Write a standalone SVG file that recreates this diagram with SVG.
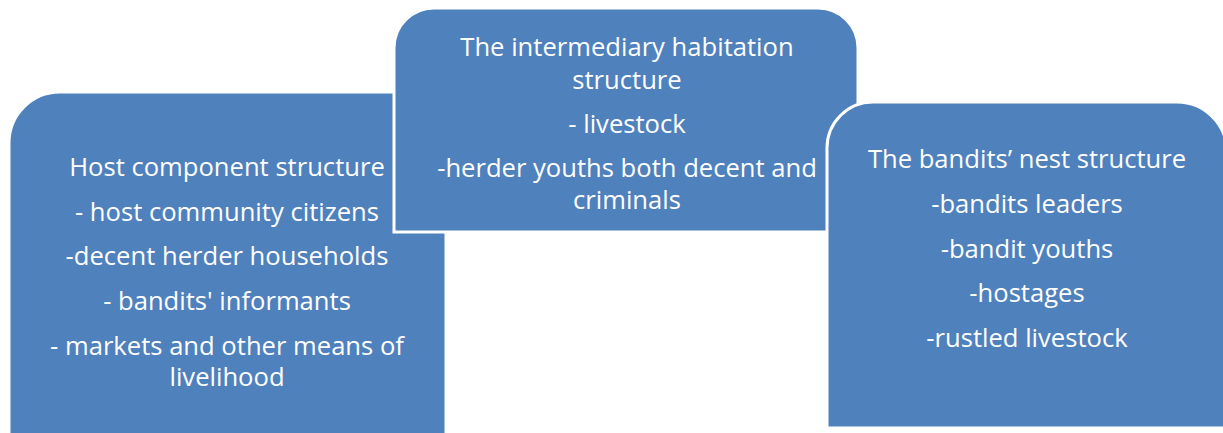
<svg xmlns="http://www.w3.org/2000/svg" width="1223" height="433" viewBox="0 0 1223 433">
  <style>
    .box { fill: #4F81BD; stroke: #FFFFFF; stroke-width: 3; }
    .label { fill: #FFFFFF; font-family: "Open Sans", "Liberation Sans", sans-serif; font-size: 25.6px; text-anchor: middle; }
  </style>
  <rect width="1223" height="433" fill="#FFFFFF"/>

  <!-- Host component structure -->
  <g id="host-component">
    <path class="box" d="M9,460 V143 A51,51 0 0 1 60,92 H400 A46,46 0 0 1 446,138 V460 Z"/>
    <text class="label" x="227" y="176">Host component structure</text>
    <text class="label" x="227" y="221">- host community citizens</text>
    <text class="label" x="227" y="265">-decent herder households</text>
    <text class="label" x="227" y="310">- bandits' informants</text>
    <text class="label" x="227" y="355">- markets and other means of</text>
    <text class="label" x="227" y="386">livelihood</text>
  </g>

  <!-- Intermediary habitation structure -->
  <g id="intermediary-habitation">
    <path class="box" d="M394,232 V48 A40,40 0 0 1 434,8 H818 A40,40 0 0 1 858,48 V232 Z"/>
    <text class="label" x="627" y="56">The intermediary habitation</text>
    <text class="label" x="627" y="89">structure</text>
    <text class="label" x="627" y="133">- livestock</text>
    <text class="label" x="627" y="177">-herder youths both decent and</text>
    <text class="label" x="627" y="209">criminals</text>
  </g>

  <!-- Bandits' nest structure -->
  <g id="bandits-nest">
    <path class="box" d="M827,428 V148 A46,46 0 0 1 873,102 H1177 A50,50 0 0 1 1227,152 V428 Z"/>
    <text class="label" x="1027" y="168">The bandits’ nest structure</text>
    <text class="label" x="1027" y="213">-bandits leaders</text>
    <text class="label" x="1027" y="258">-bandit youths</text>
    <text class="label" x="1027" y="302">-hostages</text>
    <text class="label" x="1027" y="347">-rustled livestock</text>
  </g>

  <g id="connectors"></g>
</svg>
